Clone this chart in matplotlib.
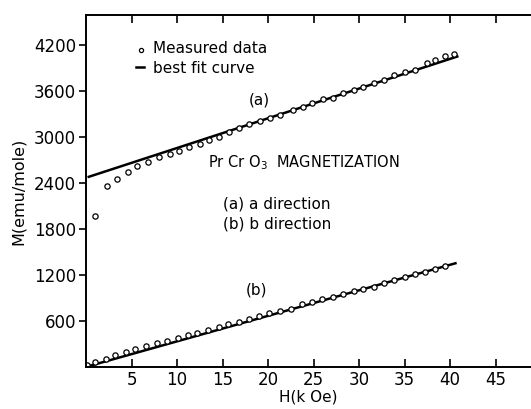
import numpy as np
import matplotlib
matplotlib.use("Agg")
import matplotlib.pyplot as plt

# (a) a direction - measured points
a_H = [1.0, 2.3, 3.4, 4.6, 5.6, 6.8, 8.0, 9.2, 10.2, 11.3, 12.5, 13.5, 14.6, 15.7,
       16.8, 17.9, 19.1, 20.2, 21.3, 22.7, 23.8, 24.8, 26.0, 27.1, 28.2, 29.4,
       30.4, 31.6, 32.7, 33.8, 35.0, 36.1, 37.5, 38.4, 39.5, 40.4]
a_M = [1970, 2360, 2450, 2540, 2620, 2675, 2735, 2780, 2820, 2870, 2910, 2960, 3005,
       3065, 3120, 3170, 3215, 3250, 3283, 3352, 3387, 3439, 3496, 3509, 3570, 3609,
       3652, 3709, 3743, 3809, 3848, 3878, 3961, 4000, 4061, 4078]
# best fit (a)
a_fit_H = [0.3, 40.8]
a_fit_M = [2480, 4050]

# (b) b direction - measured points
b_H = [0.1, 1.0, 2.15, 3.2, 4.4, 5.4, 6.6, 7.85, 8.9, 10.1, 11.2, 12.2, 13.4, 14.6,
       15.6, 16.8, 17.9, 19.0, 20.1, 21.3, 22.5, 23.7, 24.8, 25.9, 27.1, 28.2, 29.4,
       30.4, 31.6, 32.7, 33.8, 35.0, 36.1, 37.2, 38.4, 39.5]
b_M = [25, 65, 100, 156, 191, 230, 274, 309, 343, 378, 421, 443, 483, 526, 561, 587,
       626, 661, 700, 734, 761, 822, 848, 882, 913, 952, 987, 1021, 1047, 1099, 1130,
       1169, 1208, 1243, 1278, 1317]
b_fit_H = [0.0, 40.6]
b_fit_M = [0, 1352]

x_ticks = [5, 10, 15, 20, 25, 30, 35, 40, 45]
y_ticks = [600, 1200, 1800, 2400, 3000, 3600, 4200]

plt.rcParams['font.family'] = ['DejaVu Sans']
fig = plt.figure(figsize=(5.31, 4.09), dpi=100)
ax = fig.add_axes([0.162, 0.103, 0.838, 0.860])

ax.plot(a_fit_H, a_fit_M, color='black', lw=1.8)
ax.plot(b_fit_H, b_fit_M, color='black', lw=1.8)
ax.plot(a_H, a_M, 'o', mfc='white', mec='black', ms=3.8, mew=0.9)
ax.plot(b_H, b_M, 'o', mfc='white', mec='black', ms=3.8, mew=0.9)

ax.set_xlim(0, 48.9)
ax.set_ylim(0, 4590)
ax.set_xticks(x_ticks)
ax.set_yticks(y_ticks)
ax.tick_params(axis='x', direction='in', top=True, length=6, width=1.2, labelsize=12, pad=3)
ax.tick_params(axis='y', direction='out', length=5, width=1.2, labelsize=12, pad=2)
ax.spines['right'].set_visible(False)
for s in ['left', 'bottom', 'top']:
    ax.spines[s].set_linewidth(1.4)

ax.set_xlabel('H(k Oe)', fontsize=11, labelpad=0)
ax.set_ylabel('M(emu/mole)', fontsize=11.5, labelpad=6)

# legend drawn by hand
ax.plot([6.0], [4130], 'o', mfc='white', mec='black', ms=3.0, mew=0.9)
ax.text(7.4, 4150, 'Measured data', fontsize=11, va='center')
ax.plot([5.5, 6.4], [3915, 3915], color='black', lw=1.8)
ax.text(7.4, 3890, 'best fit curve', fontsize=11, va='center')

ax.text(19.0, 3480, '(a)', fontsize=11, ha='center', va='center')
ax.text(18.7, 1000, '(b)', fontsize=11, ha='center', va='center')
ax.text(13.4, 2660, r'Pr Cr O$_3$  MAGNETIZATION', fontsize=10.5, va='center')
ax.text(15.0, 2130, '(a) a direction', fontsize=11, va='center')
ax.text(15.0, 1860, '(b) b direction', fontsize=11, va='center')

fig.savefig('out.png', dpi=100)
